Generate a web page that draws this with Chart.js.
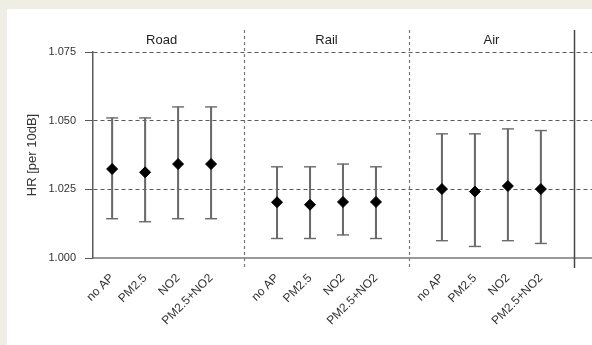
<!DOCTYPE html>
<html>
<head>
<meta charset="utf-8">
<script src="https://cdn.jsdelivr.net/npm/chart.js@4/dist/chart.umd.min.js"></script>
<style>
  html, body { margin: 0; padding: 0; background: #efeee4; width: 592px; height: 345px; overflow: hidden; }
  #wrap { position: absolute; left: 7px; top: 9px; width: 585px; height: 336px; background: #ffffff; }
  canvas { display: block; }
</style>
</head>
<body>
<div id="wrap"><canvas id="c" width="585" height="336"></canvas></div>
<script>
// ---- data ----
const groups = ['Road', 'Rail', 'Air'];
const models = ['no AP', 'PM2.5', 'NO2', 'PM2.5+NO2'];
const yTicks = [1.000, 1.025, 1.050, 1.075];

const roadHR    = [1.0324, 1.0312, 1.0342, 1.0342];
const roadLower = [1.0143, 1.0132, 1.0143, 1.0143];
const roadUpper = [1.0510, 1.0510, 1.0550, 1.0550];

const railHR    = [1.0203, 1.0194, 1.0204, 1.0204];
const railLower = [1.0071, 1.0071, 1.0084, 1.0071];
const railUpper = [1.0332, 1.0332, 1.0342, 1.0332];

const airHR     = [1.0251, 1.0242, 1.0262, 1.0251];
const airLower  = [1.0063, 1.0042, 1.0063, 1.0053];
const airUpper  = [1.0452, 1.0452, 1.0470, 1.0464];

const hrByGroup    = [roadHR, railHR, airHR];
const lowerByGroup = [roadLower, railLower, airLower];
const upperByGroup = [roadUpper, railUpper, airUpper];

// ---- build library data: slot index = group*5 + model (slots 4, 9, 14 are separators) ----
const slotLabels = {};
const points = [], whiskers = [], capsLow = [], capsHigh = [];
groups.forEach((g, gi) => {
  models.forEach((m, mi) => {
    const x = gi * (models.length + 1) + mi;
    slotLabels[x] = m;
    points.push({ x: x, y: hrByGroup[gi][mi] });
    whiskers.push({ x: x, y: [lowerByGroup[gi][mi], upperByGroup[gi][mi]] });
    capsLow.push({ x: x, y: lowerByGroup[gi][mi] });
    capsHigh.push({ x: x, y: upperByGroup[gi][mi] });
  });
});
const separators = groups.map((g, gi) => gi * (models.length + 1) + models.length);
const groupCenters = groups.map((g, gi) => gi * (models.length + 1) + (models.length - 1) / 2);

const FONT = "'Liberation Sans', Arial, sans-serif";
const TXT = '#333333';
const LINE = '#5a5a5a';
const WHISK = '#6a6a6a';

const panelPlugin = {
  id: 'panels',
  beforeDatasetsDraw(chart) {
    const { ctx, chartArea, scales } = chart;
    const xs = scales.x;
    ctx.save();
    separators.forEach((s, i) => {
      const px = Math.round(xs.getPixelForValue(s)) + 0.5;
      ctx.beginPath();
      if (i === separators.length - 1) {
        ctx.setLineDash([]);
        ctx.strokeStyle = '#444444';
        ctx.lineWidth = 1.5;
      } else {
        ctx.setLineDash([3, 3]);
        ctx.strokeStyle = '#777777';
        ctx.lineWidth = 1.2;
      }
      ctx.moveTo(px, chartArea.top - 22);
      ctx.lineTo(px, chartArea.bottom + 10);
      ctx.stroke();
    });
    ctx.setLineDash([]);
    ctx.fillStyle = '#222222';
    ctx.font = '13px ' + FONT;
    ctx.textAlign = 'center';
    ctx.textBaseline = 'middle';
    groups.forEach((g, gi) => {
      ctx.fillText(g, xs.getPixelForValue(groupCenters[gi]), chartArea.top - 12);
    });
    ctx.restore();
  }
};

new Chart(document.getElementById('c'), {
  type: 'scatter',
  data: {
    datasets: [
      {
        type: 'bar',
        data: whiskers,
        backgroundColor: WHISK,
        borderWidth: 0,
        barThickness: 1.4,
        order: 3
      },
      {
        type: 'scatter',
        data: capsLow,
        pointStyle: 'line',
        radius: 6,
        borderColor: WHISK,
        borderWidth: 1.4,
        order: 2
      },
      {
        type: 'scatter',
        data: capsHigh,
        pointStyle: 'line',
        radius: 6,
        borderColor: WHISK,
        borderWidth: 1.4,
        order: 2
      },
      {
        type: 'scatter',
        data: points,
        pointStyle: 'rectRot',
        radius: 5.5,
        backgroundColor: '#000000',
        borderColor: '#000000',
        borderWidth: 1,
        order: 1
      }
    ]
  },
  options: {
    responsive: false,
    animation: false,
    layout: { autoPadding: false, padding: { top: 43, left: 0, right: 0, bottom: 0 } },
    plugins: { legend: { display: false }, tooltip: { enabled: false } },
    scales: {
      x: {
        type: 'linear',
        offset: false,
        min: -0.58,
        max: 14.55,
        afterBuildTicks(scale) {
          scale.ticks = Object.keys(slotLabels).map(k => ({ value: Number(k) }));
        },
        afterFit(scale) { scale.height = 87; scale.paddingLeft = 0; scale.paddingRight = 0; },
        grid: { display: false },
        border: { display: true, color: '#9a9a9a', width: 2 },
        ticks: {
          autoSkip: false,
          minRotation: 45,
          maxRotation: 45,
          padding: 5,
          color: TXT,
          font: { family: FONT, size: 12 },
          callback: (v) => slotLabels[v] !== undefined ? slotLabels[v] : ''
        }
      },
      y: {
        min: 1.0,
        max: 1.075,
        afterBuildTicks(scale) {
          scale.ticks = yTicks.map(v => ({ value: v }));
        },
        afterFit(scale) { scale.width = 86; },
        grid: {
          color: (ctx) => (ctx.tick && Math.abs(ctx.tick.value - 1.0) < 1e-9) ? 'rgba(0,0,0,0)' : LINE,
          tickColor: LINE,
          tickLength: 8,
          lineWidth: 1
        },
        border: { display: true, color: LINE, width: 1.5, dash: [4, 3] },
        ticks: {
          padding: 9,
          color: TXT,
          font: { family: FONT, size: 11 },
          callback: (v) => Number(v).toFixed(3)
        },
        title: {
          display: true,
          text: 'HR [per 10dB]',
          color: TXT,
          font: { family: FONT, size: 13 },
          padding: { top: 18, bottom: 0 }
        }
      }
    }
  },
  plugins: [panelPlugin]
});
</script>
</body>
</html>
